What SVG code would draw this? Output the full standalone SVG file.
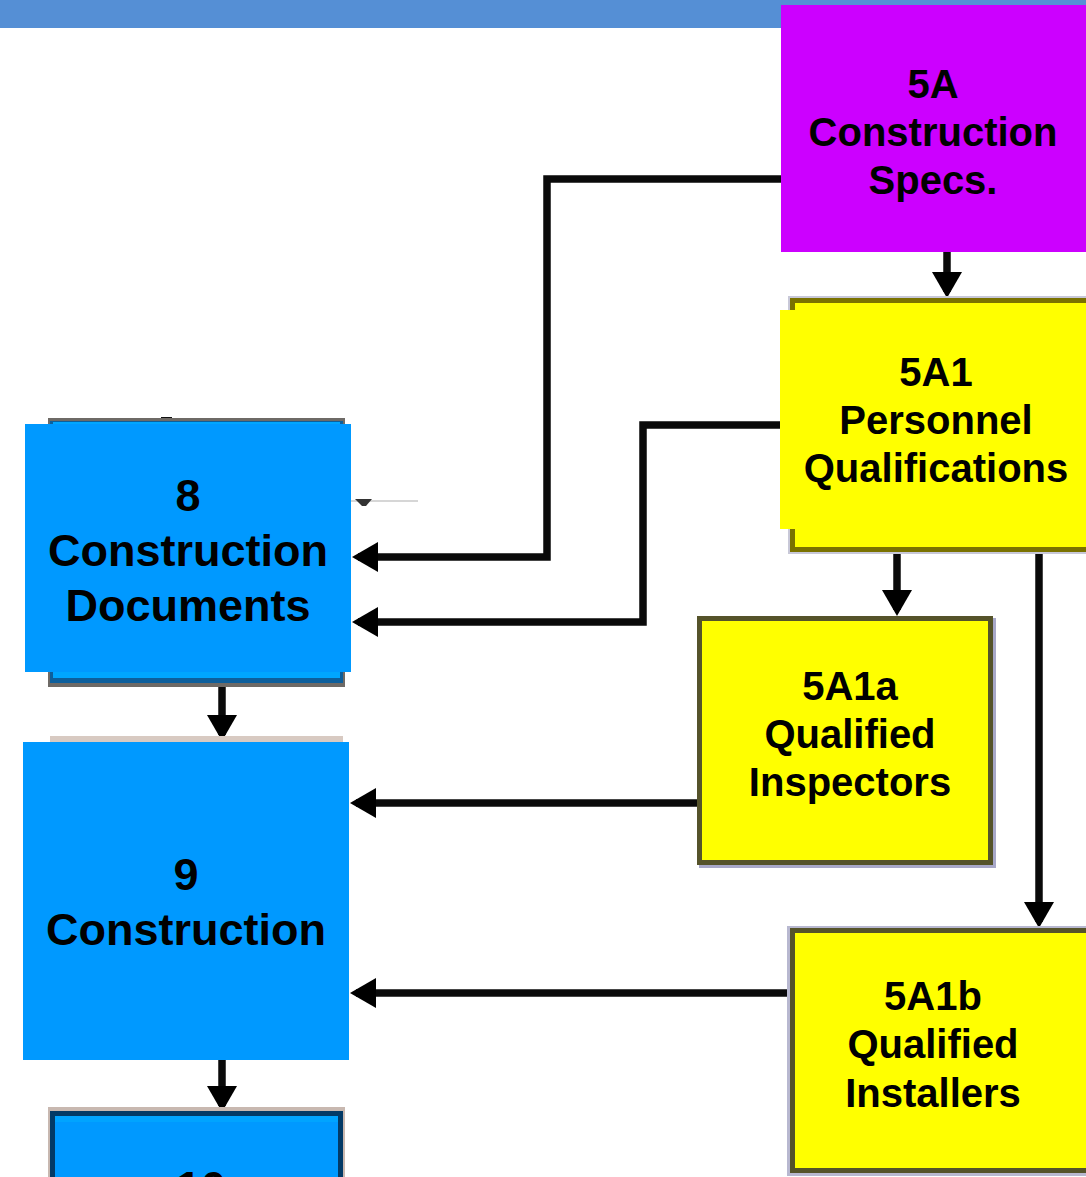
<svg xmlns="http://www.w3.org/2000/svg" width="1086" height="1177" viewBox="0 0 1086 1177">
<defs>
<marker id="ah" markerUnits="userSpaceOnUse" markerWidth="26" markerHeight="32" refX="20" refY="16" orient="auto">
<path d="M0,1 L26,16 L0,31 Z" fill="#000"/>
</marker>
<style>
.t{font-family:"Liberation Sans",Arial,sans-serif;font-weight:bold;fill:#000;text-anchor:middle}
.b{font-size:45px}
.y{font-size:40px}
.c{fill:none;stroke:#0a0a0a;stroke-width:7.5;stroke-linejoin:miter}
.blue{fill:#0099FF}
.yel{fill:#FFFF00}
.ybox{fill:#FFFF00;stroke:#55532a;stroke-width:5}
</style>
</defs>
<rect width="1086" height="1177" fill="#fff"/>
<rect id="topbar" x="0" y="0" width="1086" height="28" fill="#558FD5"/>

<g id="connectors">
<path class="c" d="M781,179 H547 V557 H358" marker-end="url(#ah)"/>
<path class="c" d="M780,425 H643 V622 H358" marker-end="url(#ah)"/>
<path class="c" d="M947,252 V292" marker-end="url(#ah)"/>
<path class="c" d="M897,552 V610" marker-end="url(#ah)"/>
<path class="c" d="M1039,552 V922" marker-end="url(#ah)"/>
<path class="c" d="M697,803 H356" marker-end="url(#ah)"/>
<path class="c" d="M790,993 H356" marker-end="url(#ah)"/>
<path class="c" d="M222,686 V735" marker-end="url(#ah)"/>
<path class="c" d="M222,1060 V1106" marker-end="url(#ah)"/>
<line x1="351" y1="501" x2="418" y2="501" stroke="#c8c8c8" stroke-width="1.5"/>
<path d="M355,499 H372 L366,506 H362 Z" fill="#333"/>
<rect x="161" y="417" width="11" height="6" fill="#111"/>
</g>

<g id="node-5A">
<rect x="781" y="5" width="305" height="247" fill="#CC00FF"/>
<text class="t y" x="933" y="98">5A</text>
<text class="t y" x="933" y="146">Construction</text>
<text class="t y" x="933" y="194">Specs.</text>
</g>

<g id="node-5A1">
<rect x="788" y="296" width="310" height="258" fill="#c8c8d8"/>
<rect class="ybox" x="792.5" y="300.5" width="300" height="249" style="stroke:#7a7200"/>
<rect class="yel" x="780" y="310" width="306" height="219"/>
<text class="t y" x="936" y="386">5A1</text>
<text class="t y" x="936" y="434">Personnel</text>
<text class="t y" x="936" y="482">Qualifications</text>
</g>

<g id="node-5A1a">
<rect x="699" y="618" width="297" height="250" fill="#a8a8c8"/>
<rect class="ybox" x="699.5" y="618.5" width="291" height="244"/>
<text class="t y" x="850" y="700">5A1a</text>
<text class="t y" x="850" y="748">Qualified</text>
<text class="t y" x="850" y="796">Inspectors</text>
</g>

<g id="node-5A1b">
<rect x="787" y="926" width="310" height="250" fill="#b8b8d0"/>
<rect class="ybox" x="792.5" y="930.5" width="300" height="240"/>
<text class="t y" x="933" y="1010">5A1b</text>
<text class="t y" x="933" y="1058">Qualified</text>
<text class="t y" x="933" y="1107">Installers</text>
</g>

<g id="node-8">
<rect x="48" y="418" width="297" height="269" fill="#6e6a66"/>
<rect x="50" y="421" width="293" height="262" fill="#0d5f9c"/>
<rect x="53" y="422" width="287" height="256" fill="#00A6FF"/>
<rect class="blue" x="25" y="424" width="326" height="248"/>
<text class="t b" x="188" y="511">8</text>
<text class="t b" x="188" y="566">Construction</text>
<text class="t b" x="188" y="621">Documents</text>
</g>

<g id="node-9">
<rect x="50" y="736" width="293" height="8" fill="#d8cac2"/>
<rect class="blue" x="23" y="742" width="326" height="318"/>
<text class="t b" x="186" y="890">9</text>
<text class="t b" x="186" y="945">Construction</text>
</g>

<g id="node-10">
<rect x="48" y="1107" width="297" height="80" fill="#c8b8b0"/>
<rect x="50" y="1111" width="293" height="80" fill="#033a66"/>
<rect x="55" y="1116" width="283" height="70" fill="#0099FF"/>
<rect x="55" y="1116" width="283" height="6" fill="#00A4FF"/>
<text class="t b" x="201" y="1203">10</text>
</g>
</svg>
